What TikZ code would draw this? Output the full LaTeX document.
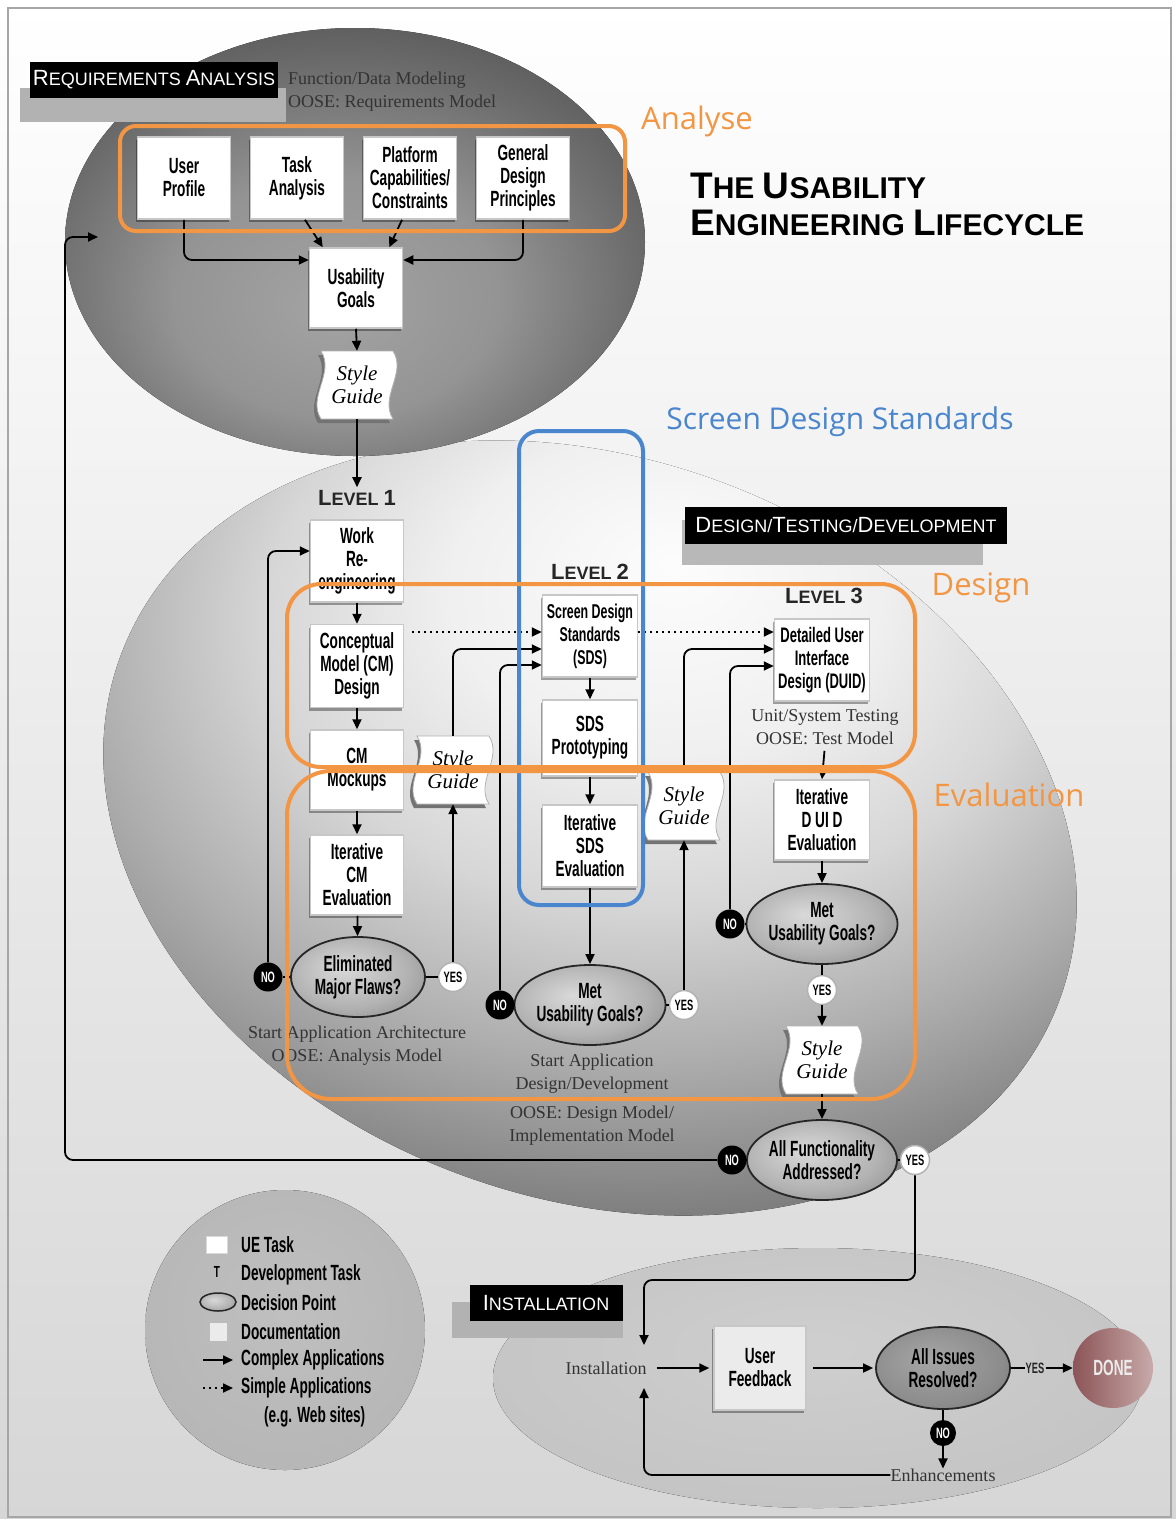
\documentclass[tikz,border=0pt]{standalone}
\usepackage{fontspec}
\setmainfont{Liberation Serif}
\newfontfamily\condsans[FakeStretch=0.62]{Liberation Sans}
\newfontfamily\labelsans{Liberation Sans}
\newfontfamily\markfont{Open Sans}
\usetikzlibrary{arrows.meta,shadows,shapes.geometric}

\definecolor{hlOrange}{RGB}{242,150,68}
\definecolor{hlBlue}{RGB}{74,134,206}
\definecolor{doneDark}{RGB}{140,84,86}
\definecolor{doneLight}{RGB}{200,170,170}

% sphere and decision fills
\pgfdeclareradialshading{reqsphere}{\pgfpoint{-2bp}{-8bp}}{color(0bp)=(black!36); color(14bp)=(black!42); color(26bp)=(black!58); color(36bp)=(black!70); color(70bp)=(black!74)}
\pgfdeclareradialshading{dtdsphere}{\pgfpoint{4bp}{14bp}}{color(0bp)=(black!1); color(10bp)=(black!6); color(18bp)=(black!16); color(26bp)=(black!32); color(34bp)=(black!50); color(42bp)=(black!60); color(75bp)=(black!64)}
\pgfdeclareradialshading{legsphere}{\pgfpoint{0bp}{4bp}}{color(0bp)=(black!25); color(40bp)=(black!30); color(50bp)=(black!34); color(70bp)=(black!34)}
\pgfdeclareradialshading{instsphere}{\pgfpoint{0bp}{6bp}}{color(0bp)=(black!19); color(35bp)=(black!24); color(50bp)=(black!33); color(70bp)=(black!33)}
\pgfdeclareradialshading{decisionfill}{\pgfpoint{-6bp}{6bp}}{color(0bp)=(black!15); color(22bp)=(black!30); color(50bp)=(black!60)}
\pgfdeclareradialshading{issuefill}{\pgfpoint{-6bp}{6bp}}{color(0bp)=(black!35); color(25bp)=(black!45); color(50bp)=(black!65)}

\newcommand\initcap[1]{{\fontsize{22}{22}\selectfont #1}}
\newcommand\titlecap[1]{{\fontsize{37}{37}\selectfont #1}}

% wavy documentation sheet with its label node
\newcommand\styleguide[3]{%
  \begin{scope}[shift={(#2,#3)}]
    \fill[black!55] (-39,-30) -- (33,-30) .. controls (47,-8) and (19,16) .. (33,38) -- (-39,38) .. controls (-53,16) and (-25,-8) .. (-39,-30) -- cycle;
    \filldraw[fill=white, draw=black!30, line width=0.8pt] (-36,-34) -- (36,-34) .. controls (50,-12) and (22,12) .. (36,34) -- (-36,34) .. controls (-50,12) and (-22,-12) .. (-36,-34) -- cycle;
  \end{scope}
  \node[sgtext] (#1) at (#2,#3) {Style\\Guide};
}

\begin{document}
\begin{tikzpicture}[x=1pt, y=-1pt,
  >={Triangle[length=10pt,width=9pt]},
  task/.style={rectangle, fill=white, draw=black!22, line width=1.5pt, minimum width=93pt, minimum height=82pt, inner sep=1pt, align=center, font=\condsans\bfseries\fontsize{22}{23}\selectfont, drop shadow={shadow xshift=-2pt, shadow yshift=-3pt, fill=black, opacity=0.35}},
  decision/.style={ellipse, draw=black!85, line width=1.8pt, minimum width=134pt, minimum height=80pt, inner sep=0pt, align=center, shading=decisionfill, font=\condsans\bfseries\fontsize{22}{23}\selectfont},
  nomark/.style={circle, fill=black, text=white, minimum size=29pt, inner sep=0pt, font=\condsans\bfseries\fontsize{15}{15}\selectfont},
  yesmark/.style={circle, fill=white, draw=black!30, line width=1.5pt, minimum size=29pt, inner sep=0pt, font=\condsans\bfseries\fontsize{15}{15}\selectfont},
  sgtext/.style={rectangle, minimum width=72pt, minimum height=68pt, inner sep=0pt, align=center, font=\itshape\fontsize{21}{23}\selectfont},
  phase/.style={rectangle, fill=black, text=white, inner sep=0pt, font=\labelsans\fontsize{18}{18}\selectfont},
  levelname/.style={font=\labelsans\bfseries\fontsize{18}{18}\selectfont, text=black!85, inner sep=0pt},
  note/.style={align=center, font=\fontsize{18}{23}\selectfont, text=black!80, inner sep=0pt},
  legendtext/.style={anchor=west, inner sep=0pt, font=\condsans\bfseries\fontsize{22}{22}\selectfont},
  flow/.style={->, line width=1.8pt, rounded corners=8pt},
  simpleflow/.style={->, line width=1.8pt, dash pattern=on 2pt off 4pt},
  link/.style={line width=1.8pt},
  hltext/.style={font=\markfont\fontsize{31}{31}\selectfont, inner sep=0pt}
]
\useasboundingbox (0,0) rectangle (1176,1519);

% page
\shade[top color=white, bottom color=black!16] (0,0) rectangle (1176,1519);

% phase spheres
\fill[shading=dtdsphere, rotate around={-20:(590,828)}] (590,828) ellipse [x radius=500pt, y radius=370pt];
\fill[shading=reqsphere] (355,242) ellipse [x radius=290pt, y radius=214pt];
\fill[shading=legsphere] (285,1330) circle [radius=140pt];
\fill[shading=instsphere] (818,1378) ellipse [x radius=325pt, y radius=130pt];

\draw[black!35, line width=1.5pt] (8,8) rectangle (1171,1517);

% phase labels
\fill[black!30] (20,88) rectangle (286,122);
\node[phase, minimum width=248pt, minimum height=36pt] (reqlbl) at (154,80) {\initcap{R}EQUIREMENTS \initcap{A}NALYSIS};
\node[note, anchor=west, align=left] (reqnote) at (288,92) {Function/Data Modeling\\OOSE: Requirements Model};

\fill[black!28] (682,520) rectangle (983,565);
\node[phase, minimum width=322pt, minimum height=37pt] (dtdlbl) at (846,525) {\initcap{D}ESIGN/\initcap{T}ESTING/\initcap{D}EVELOPMENT};

\fill[black!30] (452,1302) rectangle (623,1338);
\node[phase, minimum width=153pt, minimum height=36pt] (instlbl) at (546,1303) {\initcap{I}NSTALLATION};

\node[anchor=west, align=left, inner sep=0pt, font=\labelsans\bfseries\fontsize{30}{37}\selectfont] (title) at (690,204) {\titlecap{T}HE \titlecap{U}SABILITY\\\titlecap{E}NGINEERING \titlecap{L}IFECYCLE};

% requirements analysis
\node[task] (up) at (184,178) {User\\Profile};
\node[task] (ta) at (297,178) {Task\\Analysis};
\node[task] (pc) at (410,178) {Platform\\Capabilities/\\Constraints};
\node[task] (gdp) at (523,178) {General\\Design\\Principles};
\node[task, minimum height=80pt] (ug) at (356,288) {Usability\\Goals};
\styleguide{sgA}{357}{385}

\draw[flow] (up.south) |- ([yshift=28pt]ug.west);
\draw[flow] (gdp.south) |- ([yshift=28pt]ug.east);
\draw[flow] ([xshift=8pt]ta.south) -- ([xshift=14pt]ug.north west);
\draw[flow] ([xshift=-8pt]pc.south) -- ([xshift=-14pt]ug.north east);
\draw[flow] (ug.south) -- (sgA.north);

% level 1
\node[levelname] (lev1) at (357,498) {\initcap{L}EVEL \initcap{1}};
\node[task] (work) at (357,561) {Work\\Re-\\engineering};
\node[task, minimum height=83pt] (cm) at (357,666) {Conceptual\\Model (CM)\\Design};
\node[task, minimum height=80pt] (mock) at (357,770) {CM\\Mockups};
\node[task, minimum height=80pt] (icm) at (357,875) {Iterative\\CM\\Evaluation};
\node[decision] (elim) at (358,977) {Eliminated\\Major Flaws?};
\node[nomark] (noA) at (268,977) {NO};
\node[yesmark] (yesA) at (453,977) {YES};
\styleguide{sgB}{453}{770}
\node[note] (noteA) at (357,1046) {Start Application Architecture\\OOSE: Analysis Model};

\draw[flow, shorten >=3pt] (sgA.south) -- (lev1.north);
\draw[flow] (work) -- (cm);
\draw[flow] (cm) -- (mock);
\draw[flow] (mock) -- (icm);
\draw[flow] (icm) -- (elim);
\draw[link] (noA) -- (elim);
\draw[link] (elim) -- (yesA);
\draw[flow] (noA.north) |- ([yshift=10pt]work.west);
\draw[flow] (yesA.north) -- (sgB.south);

% level 2
\node[levelname] (lev2) at (590,572) {\initcap{L}EVEL \initcap{2}};
\node[task, minimum width=95pt, font=\condsans\bfseries\fontsize{20}{23}\selectfont] (sds) at (590,636) {Screen Design\\Standards\\(SDS)};
\node[task, minimum width=95pt, minimum height=76pt] (sdsp) at (590,738) {SDS\\Prototyping};
\node[task, minimum width=95pt] (isds) at (590,846) {Iterative\\SDS\\Evaluation};
\node[decision] (metA) at (590,1005) {Met\\Usability Goals?};
\node[nomark] (noB) at (500,1005) {NO};
\node[yesmark] (yesB) at (684,1005) {YES};
\styleguide{sgC}{684}{806}
\node[note] (noteB) at (592,1074) {Start Application\\Design/Development};
\node[note] (noteC) at (592,1126) {OOSE: Design Model/\\Implementation Model};

\draw[simpleflow, shorten <=8pt] ([yshift=34pt]cm.east) -- ([yshift=4pt]sds.west);
\draw[flow] (sgB.north) |- ([yshift=-13pt]sds.west);
\draw[flow] (noB.north) |- ([yshift=-29pt]sds.west);
\draw[flow] (sds) -- (sdsp);
\draw[flow] (sdsp) -- (isds);
\draw[flow] (isds) -- (metA);
\draw[link] (noB) -- (metA);
\draw[link] (metA) -- (yesB);
\draw[flow] (yesB.north) -- (sgC.south);

% level 3
\node[levelname] (lev3) at (824,596) {\initcap{L}EVEL \initcap{3}};
\node[task, minimum width=95pt, font=\condsans\bfseries\fontsize{21}{23}\selectfont] (duid) at (822,660) {Detailed User\\Interface\\Design (DUID)};
\node[note] (noteD) at (825,727) {Unit/System Testing\\OOSE: Test Model};
\node[task, minimum width=95pt, minimum height=80pt] (iduid) at (822,820) {Iterative\\D UI D\\Evaluation};
\node[decision] (metB) at (822,924) {Met\\Usability Goals?};
\node[nomark] (noC) at (730,924) {NO};
\node[yesmark] (yesC) at (822,990) {YES};
\styleguide{sgD}{822}{1060}
\node[decision] (allf) at (822,1160) {All Functionality\\Addressed?};
\node[nomark] (noD) at (732,1160) {NO};
\node[yesmark] (yesD) at (915,1160) {YES};

\draw[simpleflow] ([yshift=4pt]sds.east) -- ([yshift=28pt]duid.west);
\draw[flow] (sgC.north) |- ([yshift=11pt]duid.west);
\draw[flow] (noC.north) |- ([yshift=-6pt]duid.west);
\draw[flow, shorten <=6pt] (noteD.south) -- (iduid.north);
\draw[flow] (iduid) -- (metB);
\draw[link] (noC) -- (metB);
\draw[link] (metB) -- (yesC);
\draw[flow] (yesC) -- (sgD);
\draw[flow] (sgD) -- (allf);
\draw[link] (noD) -- (allf);
\draw[link] (allf) -- (yesD);
\coordinate (reentry) at (98,237);
\draw[flow] (noD.west) -| (65,237) -- (reentry);

% installation
\coordinate (injoin) at (644,1368);
\node[note] (inst) at (606,1368) {Installation};
\node[task, fill=black!8, minimum width=92pt, minimum height=84pt] (uf) at (760,1368) {User\\Feedback};
\node[decision, shading=issuefill, minimum height=82pt] (air) at (943,1368) {All Issues\\Resolved?};
\node[font=\condsans\bfseries\fontsize{15}{15}\selectfont, text=black!85, inner sep=1pt] (yesE) at (1035,1368) {YES};
\node[circle, minimum size=80pt, inner sep=0pt, left color=doneDark, right color=doneLight, text=black!8, font=\condsans\bfseries\fontsize{22}{22}\selectfont] (done) at (1113,1368) {DONE};
\node[nomark, minimum size=26pt] (noE) at (943,1433) {NO};
\node[note] (enh) at (943,1475) {Enhancements};

\draw[flow] (yesD.south) |- (644,1280) -- ([yshift=23pt]injoin);
\draw[flow] (enh.west) -| ([yshift=-20pt]injoin);
\draw[flow, shorten <=10pt, shorten >=4pt] (inst) -- (uf);
\draw[flow, shorten <=6pt, shorten >=2pt] (uf) -- (air);
\draw[link] (air) -- (yesE);
\draw[flow] (yesE) -- (done);
\draw[link] (air) -- (noE);
\draw[flow] (noE) -- (enh);

% legend
\node[fill=white, draw=black!15, minimum width=21pt, minimum height=17pt, inner sep=0pt] (keyTask) at (217,1245) {};
\node[legendtext] (keyTaskT) at (241,1245) {UE Task};
\node[font=\condsans\bfseries\fontsize{16}{16}\selectfont, inner sep=0pt] (keyDev) at (217,1272) {T};
\node[legendtext] (keyDevT) at (241,1275) {Development Task};
\node[ellipse, draw=black!85, line width=1.5pt, shading=decisionfill, minimum width=36pt, minimum height=18pt, inner sep=0pt] (keyDec) at (218,1302) {};
\node[legendtext] (keyDecT) at (241,1303) {Decision Point};
\node[fill=black!8, minimum width=17pt, minimum height=18pt, inner sep=0pt] (keyDoc) at (218,1332) {};
\node[legendtext] (keyDocT) at (241,1332) {Documentation};
\coordinate (keyCa) at (203,1360);
\coordinate (keyCb) at (233,1360);
\draw[flow] (keyCa) -- (keyCb);
\node[legendtext] (keyCxT) at (241,1360) {Complex Applications};
\coordinate (keySa) at (203,1388);
\coordinate (keySb) at (233,1388);
\draw[simpleflow] (keySa) -- (keySb);
\node[legendtext] (keySmT) at (241,1388) {Simple Applications};
\node[legendtext] (keyWebT) at (264,1417) {(e.g. Web sites)};

% highlighted groups
\draw[hlOrange, line width=4pt, rounded corners=16pt] (120,126) rectangle (625,231);
\node[hltext, text=hlOrange] (anaT) at (697,121) {Analyse};
\node[hltext, text=hlBlue, font=\markfont\fontsize{30}{30}\selectfont] (sdsT) at (840,422) {Screen Design Standards};
\draw[hlBlue, line width=4pt, rounded corners=20pt] (519,431) rectangle (643,905);
\draw[hlOrange, line width=4pt, rounded corners=34pt] (287,584) rectangle (915,767);
\node[hltext, text=hlOrange] (desT) at (981,588) {Design};
\draw[hlOrange, line width=4pt, rounded corners=44pt] (287,771) rectangle (915,1099);
\node[hltext, text=hlOrange] (evaT) at (1009,795) {Evaluation};
\end{tikzpicture}
\end{document}
